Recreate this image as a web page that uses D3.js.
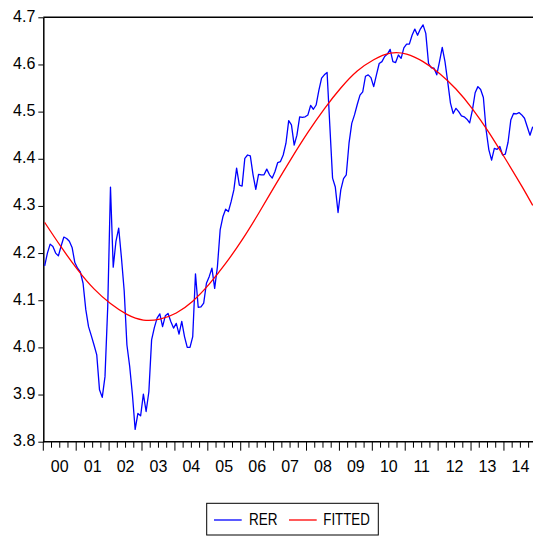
<!DOCTYPE html>
<html>
<head>
<meta charset="utf-8">
<script src="https://cdn.jsdelivr.net/npm/d3@7"></script>
<style>
  body { margin: 0; background: #fff; }
  text { font-family: "Liberation Sans", Arial, sans-serif; fill: #000; }
</style>
</head>
<body>
<script>
// monthly RER, 2000M01 .. 2014M11
var rer = [
  4.173, 4.200, 4.219, 4.214, 4.200, 4.194, 4.215, 4.234, 4.231, 4.225, 4.212, 4.180,
  4.168, 4.160, 4.136, 4.080, 4.044, 4.025, 4.005, 3.984, 3.910, 3.894, 3.938, 4.086,
  4.340, 4.170, 4.225, 4.253, 4.190, 4.120, 4.005, 3.960, 3.900, 3.826, 3.860, 3.855,
  3.901, 3.864, 3.906, 4.016, 4.042, 4.062, 4.071, 4.044, 4.067, 4.072, 4.055, 4.041,
  4.051, 4.028, 4.055, 4.023, 4.000, 4.000, 4.023, 4.156, 4.085, 4.086, 4.094, 4.136,
  4.150, 4.168, 4.125, 4.171, 4.249, 4.277, 4.293, 4.288, 4.309, 4.334, 4.380, 4.344,
  4.342, 4.401, 4.408, 4.406, 4.366, 4.335, 4.367, 4.366, 4.366, 4.378, 4.366, 4.359,
  4.373, 4.392, 4.394, 4.408, 4.433, 4.481, 4.472, 4.429, 4.450, 4.489, 4.488, 4.489,
  4.493, 4.513, 4.505, 4.514, 4.545, 4.571, 4.578, 4.583, 4.470, 4.359, 4.340, 4.286,
  4.334, 4.358, 4.366, 4.433, 4.475, 4.493, 4.515, 4.535, 4.542, 4.575, 4.578, 4.572,
  4.553, 4.578, 4.602, 4.606, 4.617, 4.622, 4.632, 4.606, 4.604, 4.620, 4.613, 4.635,
  4.643, 4.643, 4.662, 4.675, 4.662, 4.675, 4.684, 4.666, 4.602, 4.593, 4.592, 4.578,
  4.606, 4.636, 4.606, 4.563, 4.518, 4.496, 4.507, 4.500, 4.491, 4.489, 4.484, 4.476,
  4.503, 4.540, 4.553, 4.547, 4.530, 4.461, 4.419, 4.397, 4.422, 4.420, 4.426, 4.408,
  4.410, 4.435, 4.482, 4.496, 4.495, 4.498, 4.493, 4.486, 4.468, 4.450, 4.468
];

// fitted trend, read every six months
var fittedMonth = [0, 6, 12, 18, 24, 30, 36, 42, 48, 54, 60, 66, 72, 78, 84, 90, 96, 102,
  108, 114, 120, 126, 132, 138, 144, 150, 156, 162, 168, 174, 178];
var fittedValue = [4.265, 4.213, 4.165, 4.124, 4.093, 4.070, 4.058, 4.060, 4.073, 4.098,
  4.134, 4.178, 4.228, 4.284, 4.343, 4.401, 4.456, 4.506, 4.550, 4.586, 4.610, 4.624,
  4.622, 4.606, 4.581, 4.548, 4.506, 4.456, 4.400, 4.342, 4.301];

var yearLabels = ["00", "01", "02", "03", "04", "05", "06", "07", "08", "09", "10", "11", "12", "13", "14"];
var yTicks = [3.8, 3.9, 4.0, 4.1, 4.2, 4.3, 4.4, 4.5, 4.6, 4.7];

var svg = d3.select("body").append("svg")
  .attr("width", 533).attr("height", 537);

var pLeft = 43.3, pRight = 534.1, pTop = 17.3, pBottom = 441.7;

var x = d3.scaleLinear().domain([0, rer.length]).range([pLeft, pRight]);
var y = d3.scaleLinear().domain([3.8, 4.7]).range([pBottom, pTop]);

// frame top
svg.append("line")
  .attr("x1", pLeft).attr("x2", 533).attr("y1", pTop).attr("y2", pTop)
  .attr("stroke", "#000").attr("stroke-width", 1.5);

// y axis
var yAxis = svg.append("g")
  .attr("transform", "translate(" + pLeft + ",0)")
  .call(d3.axisLeft(y).tickValues(yTicks).tickFormat(d3.format(".1f"))
    .tickSize(5).tickSizeOuter(0).tickPadding(3));
yAxis.select(".domain").attr("stroke-width", 1.5);
yAxis.selectAll("text").attr("font-size", 16).attr("dy", 4).attr("font-family", null);

// x axis: year ticks, quarter minor ticks, labels mid-year
var xg = svg.append("g");
xg.append("line")
  .attr("x1", pLeft).attr("x2", 533).attr("y1", pBottom).attr("y2", pBottom)
  .attr("stroke", "#000").attr("stroke-width", 1.5);
var quarters = d3.range(0, rer.length, 3);
xg.selectAll(".q").data(quarters).enter().append("line")
  .attr("x1", function (d) { return x(d); })
  .attr("x2", function (d) { return x(d); })
  .attr("y1", pBottom)
  .attr("y2", function (d) { return d % 12 === 0 ? pBottom + 9 : pBottom + 6; })
  .attr("stroke", "#000").attr("stroke-width", 1);
xg.selectAll(".yl").data(yearLabels).enter().append("text")
  .attr("x", function (d, i) { return x(i * 12 + 6); })
  .attr("y", 471.5)
  .attr("text-anchor", "middle")
  .attr("font-size", 16)
  .text(function (d) { return d; });

// lines
var rerLine = d3.line()
  .x(function (d, i) { return x(i + 0.5); })
  .y(function (d) { return y(d); });
svg.append("path").datum(rer)
  .attr("d", rerLine)
  .attr("fill", "none").attr("stroke", "#0000ff").attr("stroke-width", 1.3)
  .attr("stroke-linejoin", "round");

var fitLine = d3.line()
  .x(function (d, i) { return x(fittedMonth[i] + 0.5); })
  .y(function (d) { return y(d); })
  .curve(d3.curveNatural);
svg.append("path").datum(fittedValue)
  .attr("d", fitLine)
  .attr("fill", "none").attr("stroke", "#ff0000").attr("stroke-width", 1.3);

// legend
var lg = svg.append("g");
lg.append("rect")
  .attr("x", 206.7).attr("y", 503.3).attr("width", 171.6).attr("height", 31.7)
  .attr("fill", "#fff").attr("stroke", "#000").attr("stroke-width", 1);
lg.append("line").attr("x1", 214).attr("x2", 241.7).attr("y1", 520).attr("y2", 520)
  .attr("stroke", "#0000ff").attr("stroke-width", 1.3);
lg.append("text").attr("x", 249).attr("y", 525).attr("font-size", 16)
  .attr("textLength", 28.5).attr("lengthAdjust", "spacingAndGlyphs").text("RER");
lg.append("line").attr("x1", 289).attr("x2", 316.7).attr("y1", 520).attr("y2", 520)
  .attr("stroke", "#ff0000").attr("stroke-width", 1.3);
lg.append("text").attr("x", 323.3).attr("y", 525).attr("font-size", 16)
  .attr("textLength", 46.5).attr("lengthAdjust", "spacingAndGlyphs").text("FITTED");
</script>
</body>
</html>
